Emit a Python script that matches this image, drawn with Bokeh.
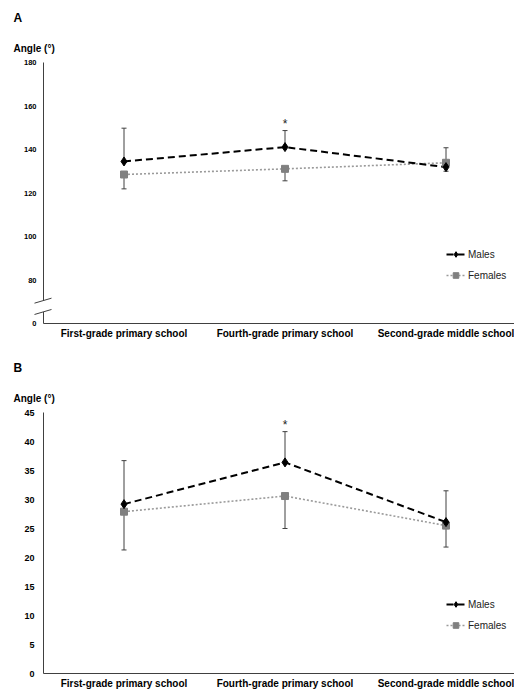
from bokeh.plotting import figure
from bokeh.models import ColumnDataSource, Range1d, Legend, LegendItem
from bokeh.layouts import column
from bokeh.embed import file_html
from bokeh.resources import INLINE
from bokeh.core.properties import value

# ---------------- data ----------------
categories = ["First-grade primary school", "Fourth-grade primary school",
              "Second-grade middle school"]

a_males = [134.5, 141.1, 131.9]
a_males_sd = [15.3, 7.6, 1.9]
a_females = [128.5, 131.1, 133.9]
a_females_sd = [6.6, 5.5, 6.9]
a_sig = [False, True, False]
a_ticks = [60, 80, 100, 120, 140, 160, 180]
a_tick_labels = ["0", "80", "100", "120", "140", "160", "180"]
a_break = [65.3, 70.5]

b_males = [29.2, 36.4, 26.1]
b_males_sd = [7.5, 5.3, 5.4]
b_females = [27.9, 30.6, 25.5]
b_females_sd = [6.6, 5.6, 3.7]
b_sig = [False, True, False]
b_ticks = [0, 5, 10, 15, 20, 25, 30, 35, 40, 45]
b_tick_labels = [str(t) for t in b_ticks]

# ---------------- style / layout ----------------
FONT = "Liberation Sans"
AXIS_COLOR = "#404040"
ERR_COLOR = "#404040"
MALE_COLOR = "#000000"
FEMALE_LINE = "#9a9a9a"
FEMALE_MARK = "#808080"

W = 514
PANEL_H = 345
AXIS_PX = 43          # y axis distance from left edge
CAT_PX = 161          # pixels per category
PLOT_H = 261          # pixels between lowest and highest tick
AXIS_X = -0.5         # data x where the y axis sits


def err_ends(own, own_sd, other):
    return [v + s if v >= o else v - s for v, s, o in zip(own, own_sd, other)]


def panel(letter, males, males_sd, females, females_sd, sig, ticks, tick_labels,
          tick_size, tick_standoff, top_px, letter_px, title_px, brk=None):
    xs = list(range(len(categories)))
    y_lo, y_hi = ticks[0], ticks[-1]
    ppu = PLOT_H / (y_hi - y_lo)
    bottom_px = PANEL_H - top_px - PLOT_H
    x_start = AXIS_X - AXIS_PX / CAT_PX
    x_end = AXIS_X + (W - AXIS_PX) / CAT_PX
    y_end = y_hi + top_px / ppu
    y_start = y_lo - bottom_px / ppu

    p = figure(width=W, height=PANEL_H, x_range=Range1d(x_start, x_end),
               y_range=Range1d(y_start, y_end), output_backend="svg",
               toolbar_location=None, x_axis_location=None, y_axis_location=None,
               min_border_left=0, min_border_right=0, min_border_top=0,
               min_border_bottom=0)
    p.outline_line_color = None
    p.xgrid.visible = False
    p.ygrid.visible = False
    p.background_fill_color = "white"
    p.border_fill_color = "white"

    # axis lines
    p.segment(x0=[AXIS_X], y0=[y_lo], x1=[x_end], y1=[y_lo],
              line_color=AXIS_COLOR, line_width=1)
    if brk is None:
        p.segment(x0=[AXIS_X], y0=[y_lo], x1=[AXIS_X], y1=[y_hi],
                  line_color=AXIS_COLOR, line_width=1)
    else:
        lo, hi = brk
        p.segment(x0=[AXIS_X, AXIS_X], y0=[y_lo, hi], x1=[AXIS_X, AXIS_X],
                  y1=[lo, y_hi], line_color=AXIS_COLOR, line_width=1)
        dxl, dxr, dy = 9 / CAT_PX, 8 / CAT_PX, 2.5 / ppu
        p.segment(x0=[AXIS_X - dxl] * 2, y0=[lo - dy, hi - dy],
                  x1=[AXIS_X + dxr] * 2, y1=[lo + dy, hi + dy],
                  line_color=AXIS_COLOR, line_width=1)

    # category labels
    p.text(x=xs, y=[y_lo] * len(xs), text=categories, y_offset=10,
           text_align="center", text_baseline="middle", text_font=value(FONT),
           text_font_style="bold", text_font_size="10px", text_color="black")

    # y tick labels
    p.text(x=[AXIS_X] * len(ticks), y=ticks, text=tick_labels, x_offset=-tick_standoff,
           text_align="right", text_baseline="middle", text_font=value(FONT),
           text_font_style="bold", text_font_size=tick_size, text_color="black")

    # panel letter and axis title
    p.text(x=[AXIS_X], y=[y_end], text=[letter], x_offset=-(AXIS_PX - 13),
           y_offset=letter_px, text_align="left", text_baseline="middle",
           text_font=value(FONT), text_font_style="bold", text_font_size="12px",
           text_color="black")
    p.text(x=[AXIS_X], y=[y_end], text=["Angle (°)"], x_offset=-(AXIS_PX - 13),
           y_offset=title_px, text_align="left", text_baseline="middle",
           text_font=value(FONT), text_font_style="bold", text_font_size="10px",
           text_color="black")

    # error bars
    m_end = err_ends(males, males_sd, females)
    f_end = err_ends(females, females_sd, males)
    esrc = ColumnDataSource(dict(x=xs + xs, y0=males + females, y1=m_end + f_end))
    p.segment(x0="x", y0="y0", x1="x", y1="y1", source=esrc,
              line_color=ERR_COLOR, line_width=1)
    p.scatter(x="x", y="y1", source=esrc, marker="dash", size=5,
              line_color=ERR_COLOR, line_width=1)

    # series
    msrc = ColumnDataSource(dict(x=xs, y=males))
    fsrc = ColumnDataSource(dict(x=xs, y=females))
    fl = p.line("x", "y", source=fsrc, line_color=FEMALE_LINE, line_width=1.6,
                line_dash="2 2")
    ml = p.line("x", "y", source=msrc, line_color=MALE_COLOR, line_width=2,
                line_dash="7 4")
    fm = p.scatter("x", "y", source=fsrc, marker="square", size=7,
                   fill_color=FEMALE_MARK, line_color=FEMALE_MARK)
    mm = p.scatter("x", "y", source=msrc, marker="diamond", size=9,
                   fill_color=MALE_COLOR, line_color=MALE_COLOR)

    # significance
    sx = [x for x, s in zip(xs, sig) if s]
    sy = [e for e, s in zip(m_end, sig) if s]
    p.text(x=sx, y=sy, text=["*"] * len(sx), text_align="center",
           text_baseline="middle", y_offset=-7, text_font=value(FONT),
           text_font_size="12px", text_color="#222222")

    legend = Legend(items=[LegendItem(label="Males", renderers=[ml, mm]),
                           LegendItem(label="Females", renderers=[fl, fm])],
                    location=(446, bottom_px + 41), orientation="vertical",
                    border_line_color=None, background_fill_alpha=0,
                    padding=0, margin=0, spacing=7, glyph_width=19,
                    glyph_height=14, label_height=14, label_standoff=3,
                    label_text_font=FONT, label_text_font_size="10px",
                    label_text_color="#222222")
    p.add_layout(legend)
    return p


pa = panel("A", a_males, a_males_sd, a_females, a_females_sd, a_sig, a_ticks,
           a_tick_labels, "7.5px", 7, 62, 17, 48, brk=a_break)
pb = panel("B", b_males, b_males_sd, b_females, b_females_sd, b_sig, b_ticks,
           b_tick_labels, "9px", 9, 67, 22, 53)

layout = column(pa, pb, spacing=0)
open("out.html", "w").write(file_html(layout, INLINE))
